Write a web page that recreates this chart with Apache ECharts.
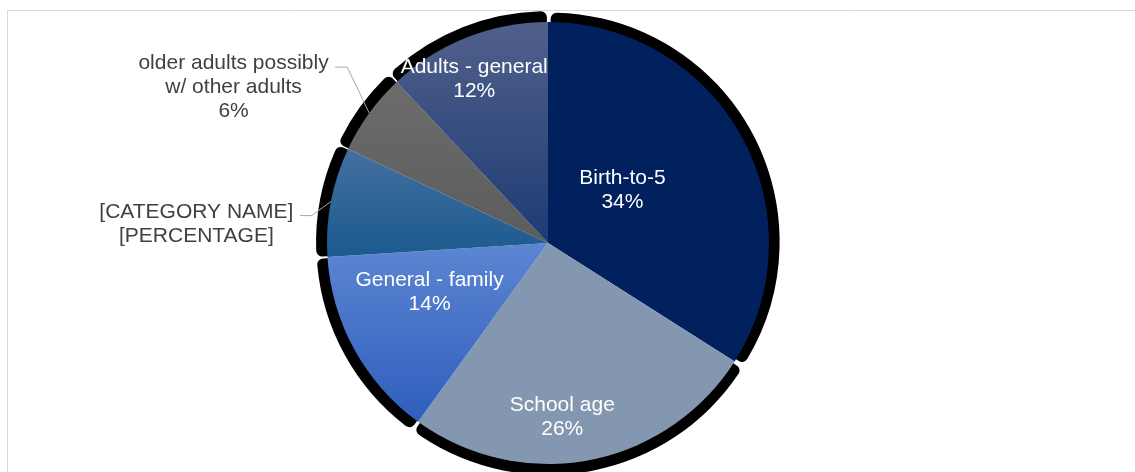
<!DOCTYPE html>
<html>
<head>
<meta charset="utf-8">
<script src="https://cdn.jsdelivr.net/npm/echarts@6/dist/echarts.min.js"></script>
<style>
  html, body { margin: 0; padding: 0; background: #ffffff; }
  #chart { width: 1135px; height: 472px; }
</style>
</head>
<body>
<div id="chart"></div>
<script>
// Audience breakdown, clockwise from 12 o'clock
const categories = [
  'Birth-to-5',
  'School age',
  'General - family',
  '[CATEGORY NAME]',
  'older adults possibly\nw/ other adults',
  'Adults - general'
];
const shares = [34, 26, 14, 8, 6, 12];
// placeholder label text kept as typed
const labelOverrides = [null, null, null, '[CATEGORY NAME]\n[PERCENTAGE]', null, null];

// ---- styling ----
const FONT = "'Liberation Sans', Arial, Helvetica, sans-serif";
const CENTER = [548, 243];
const RADIUS = 221;

function vgrad(top, bottom) {
  return { type: 'linear', x: 0, y: 0, x2: 0, y2: 1,
    colorStops: [{ offset: 0, color: top }, { offset: 1, color: bottom }] };
}
const sliceFills = [
  '#00205E',
  '#8497B0',
  vgrad('#5D86D2', '#2E5EBD'),
  vgrad('#44709F', '#1B5A8F'),
  vgrad('#6C6C6C', '#5C5C5C'),
  vgrad('#50608B', '#1E3B74')
];
const outsideSlices = [3, 4];
// nudges for labels drawn inside their slice
const insideShift = { 0: [-25, 2], 1: [-7, 63], 2: [-19, -5], 5: [-32, -58] };
// leader-line elbow relative to the slice edge
const leaderBend = { 3: [-19, 14], 4: [-22, -46] };
const LEADER_TAIL = 12, LABEL_GAP = 6.5, LINE_H = 24;

const mainData = categories.map((name, i) => {
  const outside = outsideSlices.includes(i);
  return {
    name: name,
    value: shares[i],
    itemStyle: { color: sliceFills[i] },
    label: {
      position: outside ? 'outside' : 'inside',
      color: outside ? '#404040' : '#ffffff',
      formatter: labelOverrides[i] || '{b}\n{d}%'
    },
    labelLine: { show: outside }
  };
});

// black drop shadow: each slice pushed slightly outward
const shadowData = categories.map((name, i) => ({
  name: name, value: shares[i], selected: true
}));

const chart = echarts.init(document.getElementById('chart'), null, { renderer: 'canvas' });
chart.setOption({
  animation: false,
  backgroundColor: '#ffffff',
  graphic: [{
    type: 'rect', z: -10, silent: true,
    shape: { x: 7.5, y: 10.5, width: 1400, height: 800 },
    style: { fill: null, stroke: '#D9D9D9', lineWidth: 1 }
  }],
  series: [
    {
      type: 'pie',
      z: 1,
      silent: true,
      center: CENTER,
      radius: RADIUS + 8,
      startAngle: 90,
      clockwise: true,
      selectedMode: 'multiple',
      selectedOffset: 3,
      avoidLabelOverlap: false,
      emphasis: { disabled: true },
      itemStyle: { color: '#000000', borderRadius: 6, borderWidth: 0 },
      label: { show: false },
      labelLine: { show: false },
      data: shadowData
    },
    {
      type: 'pie',
      z: 2,
      silent: true,
      center: CENTER,
      radius: RADIUS,
      startAngle: 90,
      clockwise: true,
      avoidLabelOverlap: false,
      emphasis: { disabled: true },
      itemStyle: { borderWidth: 0 },
      label: {
        show: true,
        fontFamily: FONT,
        fontSize: 21,
        lineHeight: LINE_H,
        align: 'center'
      },
      labelLine: {
        length: 20,
        length2: LEADER_TAIL,
        smooth: false,
        lineStyle: { color: '#A6A6A6', width: 1 }
      },
      labelLayout: function (params) {
        const i = params.dataIndex;
        if (insideShift[i]) {
          return { dx: insideShift[i][0], dy: insideShift[i][1] };
        }
        const bend = leaderBend[i];
        if (!bend || !params.labelLinePoints) return {};
        const p0 = params.labelLinePoints[0];
        const p1 = [p0[0] + bend[0], p0[1] + bend[1]];
        const p2 = [p1[0] - LEADER_TAIL, p1[1]];
        return {
          x: p2[0] - LABEL_GAP - params.labelRect.width / 2,
          y: p2[1] - 3.5 - LINE_H / 2,
          align: 'center',
          verticalAlign: 'top',
          labelLinePoints: [p0, p1, p2]
        };
      },
      data: mainData
    }
  ]
});
</script>
</body>
</html>
